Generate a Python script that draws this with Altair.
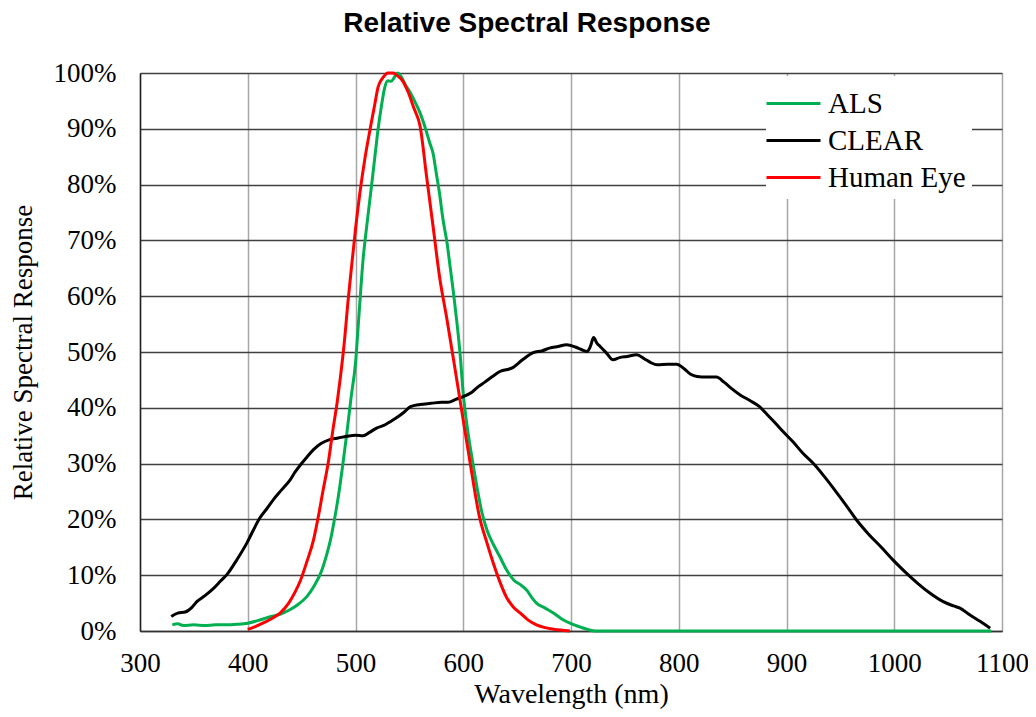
import altair as alt
import pandas as pd

# ---- data ----
clear_nm = [329, 335, 342, 348, 353, 360, 368, 375, 381, 390, 399, 405, 411, 418, 424, 431, 439, 444, 449,
            455, 461, 468, 476, 484, 492, 500, 507, 513, 520, 528, 533, 538, 545, 551, 560, 570, 580, 586,
            593, 600, 608, 614, 620, 627, 634, 646, 655, 665, 673, 680, 688, 696, 704, 710, 715, 718, 721,
            724, 727, 733, 739, 745, 752, 761, 768, 774, 780, 790, 798, 805, 811, 817, 826, 835, 842, 850,
            857, 866, 875, 882, 890, 897, 906, 915, 925, 935, 945, 955, 965, 976, 988, 999, 1010, 1022,
            1033, 1045, 1055, 1061, 1070, 1080, 1089]
clear_pct = [2.6, 3.2, 3.4, 4.2, 5.3, 6.3, 7.6, 9.0, 10.2, 12.8, 15.7, 18.0, 20.2, 22.0, 23.6, 25.2, 27.0,
             28.5, 29.8, 31.2, 32.5, 33.6, 34.3, 34.6, 34.9, 35.1, 35.0, 35.6, 36.4, 37.0, 37.6, 38.2, 39.2,
             40.2, 40.6, 40.8, 41.0, 41.0, 41.5, 42.0, 42.8, 43.8, 44.6, 45.6, 46.5, 47.2, 48.6, 49.9, 50.2,
             50.7, 51.0, 51.3, 50.9, 50.4, 50.1, 51.0, 52.6, 51.6, 51.0, 49.8, 48.6, 49.0, 49.2, 49.5, 48.8,
             48.1, 47.7, 47.8, 47.8, 47.0, 46.0, 45.6, 45.5, 45.5, 44.6, 43.3, 42.3, 41.3, 40.2, 38.8, 37.2,
             35.7, 33.9, 31.9, 30.0, 27.7, 25.2, 22.6, 19.9, 17.4, 15.0, 12.7, 10.6, 8.5, 6.8, 5.3, 4.5, 4.1,
             2.9, 1.7, 0.5]

als_nm = [330, 335, 340, 350, 360, 370, 380, 390, 400, 410, 420, 430, 439, 447, 455, 462, 468, 473, 477,
          480, 484, 488, 492, 496, 500, 503, 507, 511, 515, 518, 521, 524, 527, 530, 533, 536, 539, 542,
          546, 551, 556, 560, 565, 569, 572, 575, 578, 581, 585, 588, 591, 594, 597, 600, 603, 606, 609,
          613, 617, 622, 628, 634, 640, 647, 653, 659, 664, 668, 676, 684, 691, 699, 707, 715, 724, 800,
          900, 1000, 1090]
als_pct = [1.1, 1.3, 1.0, 1.1, 1.0, 1.1, 1.1, 1.2, 1.4, 1.9, 2.5, 3.0, 3.8, 4.8, 6.2, 8.2, 10.5, 13.5,
           16.5, 19.5, 24.0, 29.5, 35.5, 42.0, 48.0, 56.0, 66.5, 73.5, 80.0, 85.0, 90.0, 94.0, 97.3, 98.6,
           98.5, 99.2, 100.0, 99.5, 98.0, 96.4, 94.5, 92.8, 90.0, 87.4, 85.6, 82.0, 78.4, 74.0, 69.5, 65.0,
           60.5, 55.5, 49.8, 42.5, 37.5, 33.5, 30.0, 25.5, 21.5, 18.1, 15.5, 13.3, 11.0, 9.1, 8.3, 7.3, 5.9,
           5.0, 4.1, 3.2, 2.2, 1.4, 0.8, 0.3, 0.0, 0.0, 0.0, 0.0, 0.0]

eye_nm = [400, 407, 414, 422, 430, 438, 444, 449, 455, 461, 466, 470, 475, 479, 483, 486, 490, 493, 497,
          500, 504, 509, 514, 518, 521, 526, 530, 535, 539, 544, 549, 554, 560, 566, 572, 578, 585, 591,
          597, 606, 615, 622, 628, 634, 640, 646, 653, 660, 668, 676, 684, 699]
eye_pct = [0.3, 0.8, 1.4, 2.2, 3.2, 5.0, 7.0, 9.1, 12.5, 16.3, 21.0, 25.3, 30.5, 36.0, 41.0, 45.5, 52.5,
           59.0, 66.5, 72.0, 78.4, 85.0, 90.4, 94.5, 97.5, 99.3, 100.0, 100.0, 99.5, 98.5, 96.5, 93.8,
           90.4, 81.4, 72.5, 63.5, 55.7, 48.6, 41.4, 30.6, 20.5, 15.8, 12.1, 8.8, 6.1, 4.4, 3.2, 2.0, 1.1,
           0.6, 0.3, 0.0]

series = ["ALS", "CLEAR", "Human Eye"]
colors = ["#00B050", "#000000", "#FF0000"]
x_ticks = [300, 400, 500, 600, 700, 800, 900, 1000, 1100]
y_ticks = [0, 0.1, 0.2, 0.3, 0.4, 0.5, 0.6, 0.7, 0.8, 0.9, 1.0]

frames = []
for name, xs, ys in [("ALS", als_nm, als_pct), ("CLEAR", clear_nm, clear_pct), ("Human Eye", eye_nm, eye_pct)]:
    frames.append(pd.DataFrame({"nm": xs, "resp": [v / 100 for v in ys], "series": name}))
df = pd.concat(frames, ignore_index=True)

serif = "Liberation Serif"

chart = alt.Chart(df).mark_line(strokeWidth=3, interpolate="monotone").encode(
    x=alt.X("nm:Q",
            scale=alt.Scale(domain=[300, 1100], nice=False, zero=False),
            axis=alt.Axis(values=x_ticks, title="Wavelength (nm)", format="d", labelFlush=False,
                          labelFont=serif, labelFontSize=27, labelColor="#000000", labelPadding=19,
                          titleFont=serif, titleFontSize=28, titleFontWeight="normal", titleColor="#000000",
                          titlePadding=4, ticks=False,
                          grid=True, gridColor="#A6A6A6", gridWidth=1.5,
                          domainColor="#333333", domainWidth=1.5)),
    y=alt.Y("resp:Q",
            scale=alt.Scale(domain=[0, 1], nice=False),
            axis=alt.Axis(values=y_ticks, format=".0%", title="Relative Spectral Response", labelFlush=False,
                          labelFont=serif, labelFontSize=27, labelColor="#000000", labelPadding=24,
                          titleFont=serif, titleFontSize=27, titleFontWeight="normal", titleColor="#000000",
                          titlePadding=16, ticks=False,
                          grid=True, gridColor="#404040", gridWidth=1.5,
                          domainColor="#222222", domainWidth=1.5)),
    color=alt.Color("series:N",
                    scale=alt.Scale(domain=series, range=colors),
                    legend=alt.Legend(title=None, orient="none", legendX=626, legendY=3,
                                      symbolType="M-1.35,0L1.35,0", symbolSize=1600, symbolStrokeWidth=3,
                                      symbolFillColor="transparent",
                                      labelFont=serif, labelFontSize=29, labelColor="#000000",
                                      labelOffset=13, rowPadding=0, padding=6,
                                      fillColor="#FFFFFF")),
).properties(
    width=862,
    height=558,
    title=alt.TitleParams("Relative Spectral Response", font="Liberation Sans", fontSize=28,
                          fontWeight="bold", color="#000000", anchor="middle", frame="group",
                          offset=21, dx=-44),
    padding={"left": 132, "top": 65, "right": 26, "bottom": 78},
    autosize=alt.AutoSizeParams(type="none"),
).configure_view(
    stroke="#999999", strokeWidth=2
).configure(background="#FFFFFF")

chart.save("out.html", embed_options={"renderer": "svg", "actions": False})
